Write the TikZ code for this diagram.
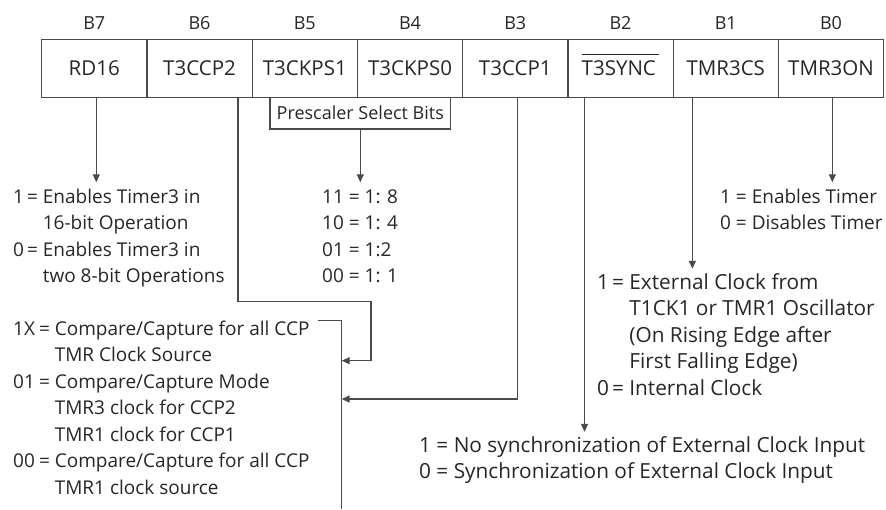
\documentclass[tikz,border=0pt]{standalone}
\usepackage{fontspec}
\setmainfont{Open Sans}
\usetikzlibrary{arrows.meta}
\definecolor{ink}{HTML}{262626}
\definecolor{wire}{HTML}{4a4a4a}
% continuation line, indented past the "= "
\newcommand{\cont}[1]{\phantom{= }#1}
\begin{document}
\begin{tikzpicture}[x=1pt,y=-1pt,
  every node/.style={text=ink, font=\fontsize{19}{26.5}\selectfont, inner sep=0pt},
  cell/.style={draw=wire, line width=1.3pt, minimum width=105.25pt, minimum height=58.2pt,
    anchor=north west, font=\fontsize{20.5}{26.5}\selectfont},
  bitlbl/.style={anchor=base, font=\fontsize{18}{20}\selectfont},
  wireline/.style={draw=wire, line width=1.3pt},
  arr/.style={wireline, -{Triangle[length=8pt,width=7pt]}, shorten >=2pt},
  sidearr/.style={wireline, -{Triangle[length=8pt,width=7pt]}},
  desc/.style={anchor=base west},
  bigdesc/.style={anchor=base west, font=\fontsize{20.8}{26.4}\selectfont}
]
\useasboundingbox (0,0) rectangle (886,509);

% register cells
\node[cell] (b7) at (41,38.5)     {RD16};
\node[cell] (b6) at (146.25,38.5) {T3CCP2};
\node[cell] (b5) at (251.5,38.5)  {T3CKPS1};
\node[cell] (b4) at (356.75,38.5) {T3CKPS0};
\node[cell] (b3) at (462,38.5)    {T3CCP1};
\node[cell] (b2) at (567.25,38.5)
  {$\vphantom{\mbox{T3SYNC}}\smash{\overline{\mbox{\rule{0pt}{19.5pt}T3SYNC}\mkern3mu}}$};
\node[cell] (b1) at (672.5,38.5)  {TMR3CS};
\node[cell] (b0) at (777.75,38.5) {TMR3ON};

% bit numbers
\node[bitlbl] (l7) at (b7.north |- 0,29.5) {B7};
\node[bitlbl] (l6) at (b6.north |- 0,29.5) {B6};
\node[bitlbl] (l5) at (b5.north |- 0,29.5) {B5};
\node[bitlbl] (l4) at (b4.north |- 0,29.5) {B4};
\node[bitlbl] (l3) at (b3.north |- 0,29.5) {B3};
\node[bitlbl] (l2) at (b2.north |- 0,29.5) {B2};
\node[bitlbl] (l1) at (b1.north |- 0,29.5) {B1};
\node[bitlbl] (l0) at (b0.north |- 0,29.5) {B0};

% prescaler caption box
\node[draw=wire, line width=1.3pt, minimum width=180.7pt, minimum height=31.6pt, anchor=north west,
  font=\fontsize{18}{22}\selectfont]
  (pre) at (269.3,96.7) {Prescaler Select Bits};

% bit descriptions
\node[desc] (d7) at (13,203) {\begin{tabular}[t]{@{}l@{\hspace{3pt}}l@{}}
1 & = Enables Timer3 in\\
  & \cont{16-bit Operation}\\
0 & = Enables Timer3 in\\
  & \cont{two 8-bit Operations}
\end{tabular}};

\node[desc] (dps) at (322,203) {\begin{tabular}[t]{@{}l@{}}
11 = 1: 8\\
10 = 1: 4\\
01 = 1:2\\
00 = 1: 1
\end{tabular}};

\node[desc] (d0) at (720,203) {\begin{tabular}[t]{@{}l@{}}
1 = Enables Timer\\
0 = Disables Timer
\end{tabular}};

\node[bigdesc] (d1) at (597,289.5) {\begin{tabular}[t]{@{}l@{\hspace{3pt}}l@{}}
1 & = External Clock from\\
  & \cont{T1CK1 or TMR1 Oscillator}\\
  & \cont{(On Rising Edge after}\\
  & \cont{First Falling Edge)}\\
0 & = Internal Clock
\end{tabular}};

\node[desc] (d6) at (13,335) {\begin{tabular}[t]{@{}l@{\hspace{4pt}}l@{}}
1X & = Compare/Capture for all CCP\\
   & \cont{TMR Clock Source}\\
01 & = Compare/Capture Mode\\
   & \cont{TMR3 clock for CCP2}\\
   & \cont{TMR1 clock for CCP1}\\
00 & = Compare/Capture for all CCP\\
   & \cont{TMR1 clock source}
\end{tabular}};

\node[bigdesc] (d2) at (419,452.5) {\begin{tabular}[t]{@{}l@{}}
1 = No synchronization of External Clock Input\\
0 = Synchronization of External Clock Input
\end{tabular}};

% bracket grouping the T3CCP2:T3CCP1 codes
\coordinate (brl) at (318.3,320.7);
\coordinate (brt) at (341.7,320.7);
\coordinate (brb) at (341.7,509);
\coordinate (hit6) at (341.7,360.7);
\coordinate (hit3) at (341.7,399);
\coordinate (k6) at (371,301.7);
\draw[wireline] (brl) -- (brt) -- (brb);

% connectors
\draw[arr] ([xshift=2pt]b7.south) -- ([xshift=2pt]b7.south |- d7.north);
\draw[sidearr] ([xshift=38.4pt]b6.south) |- (k6) -- (k6 |- hit6) -- (hit6);
\draw[arr] (pre.south) -- (pre.south |- dps.north);
\draw[sidearr] ([xshift=2pt]b3.south) |- (hit3);
\draw[arr] ([xshift=-36pt]b2.south) -- ([xshift=-36pt]b2.south |- d2.north);
\draw[arr] ([xshift=-33.4pt]b1.south) -- ([xshift=-33.4pt]b1.south |- d1.north);
\draw[arr] ([xshift=1.3pt]b0.south) -- ([xshift=1.3pt]b0.south |- d0.north);
\end{tikzpicture}
\end{document}
